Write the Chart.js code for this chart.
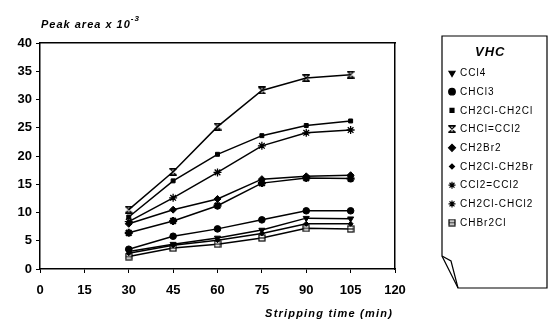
<!DOCTYPE html>
<html>
<head>
<meta charset="utf-8">
<script src="https://cdn.jsdelivr.net/npm/chart.js@4/dist/chart.umd.min.js"></script>
<style>
  html, body { margin: 0; padding: 0; background: #fff; }
  #wrap { width: 549px; height: 323px; position: relative; }
</style>
</head>
<body>
<div id="wrap"><canvas id="myChart" width="549" height="323"></canvas></div>
<script>
// stripping times (min)
const times = [30, 45, 60, 75, 90, 105];
const xTicks = [0, 15, 30, 45, 60, 75, 90, 105, 120];

// peak area x 10^-3
const ccl4 = [3.1, 4.4, 5.5, 6.9, 9.0, 8.9];
const chcl3 = [3.5, 5.8, 7.1, 8.7, 10.3, 10.3];
const ch2clCh2cl = [9.2, 15.6, 20.3, 23.6, 25.4, 26.2];
const chclCcl2 = [10.5, 17.2, 25.2, 31.6, 33.8, 34.4];
const ch2br2 = [8.0, 10.5, 12.4, 15.9, 16.4, 16.6];
const ch2clCh2br = [2.8, 4.2, 5.1, 6.3, 8.0, 8.0];
const ccl2Ccl2 = [6.4, 8.5, 11.2, 15.2, 16.1, 16.0];
const ch2clChcl2 = [8.4, 12.6, 17.1, 21.8, 24.1, 24.6];
const chbr2cl = [2.2, 3.7, 4.4, 5.5, 7.2, 7.1];

const labels = ['CCl4', 'CHCl3', 'CH2Cl-CH2Cl', 'CHCl=CCl2', 'CH2Br2',
    'CH2Cl-CH2Br', 'CCl2=CCl2', 'CH2Cl-CHCl2', 'CHBr2Cl'];
const series = [ccl4, chcl3, ch2clCh2cl, chclCcl2, ch2br2,
    ch2clCh2br, ccl2Ccl2, ch2clChcl2, chbr2cl];

const FONT = '"Liberation Sans", Arial, sans-serif';

// little glyph canvases for the odd markers
function glyph(size, draw) {
    var c = document.createElement('canvas');
    c.width = size; c.height = size;
    var g = c.getContext('2d');
    g.strokeStyle = '#000'; g.fillStyle = '#000'; g.lineWidth = 1.2;
    draw(g, size);
    return c;
}
var hourglass = glyph(8, function (g, s) {
    g.beginPath();
    g.moveTo(1, 1); g.lineTo(s - 1, 1); g.lineTo(1, s - 1); g.lineTo(s - 1, s - 1); g.closePath();
    g.stroke();
    g.fillRect(0.5, 0, s - 1, 1.5); g.fillRect(0.5, s - 1.5, s - 1, 1.5);
});
var boxEight = glyph(8, function (g, s) {
    g.fillStyle = '#fff';
    g.fillRect(1, 1, s - 2, s - 2);
    g.strokeRect(1, 1, s - 2, s - 2);
    g.beginPath(); g.moveTo(1, s / 2); g.lineTo(s - 1, s / 2); g.stroke();
});

const styles = [
    { pointStyle: 'triangle', rotation: 180, radius: 3.5 },
    { pointStyle: 'circle', radius: 3.3 },
    { pointStyle: 'rect', radius: 2.8 },
    { pointStyle: hourglass, radius: 4 },
    { pointStyle: 'rectRot', radius: 3.5 },
    { pointStyle: 'rectRot', radius: 2.5 },
    { pointStyle: 'star', radius: 4, borderWidth: 2.2 },
    { pointStyle: 'star', radius: 4, borderWidth: 1.3 },
    { pointStyle: boxEight, radius: 4 }
];

const datasets = series.map(function (d, i) {
    var s = styles[i];
    return {
        label: labels[i],
        data: d,
        borderColor: '#000',
        backgroundColor: '#000',
        borderWidth: 1.5,
        pointStyle: s.pointStyle,
        rotation: s.rotation || 0,
        pointRadius: s.radius,
        pointBorderWidth: s.borderWidth || 1,
        pointBackgroundColor: '#000',
        pointBorderColor: '#000',
        tension: 0
    };
});

// axis titles (y one has a superscript) + the VHC legend box
const extras = {
    id: 'extras',
    afterDraw: function (chart) {
        var ctx = chart.ctx;
        ctx.save();
        ctx.fillStyle = '#000';
        ctx.textBaseline = 'alphabetic';
        ctx.textAlign = 'left';
        ctx.letterSpacing = '1px';
        ctx.font = 'italic bold 11px ' + FONT;
        var t = 'Peak area x 10';
        ctx.fillText(t, 41, 28);
        var w = ctx.measureText(t).width;
        ctx.font = 'italic bold 8px ' + FONT;
        ctx.fillText('-3', 41 + w, 21);

        ctx.letterSpacing = '1.2px';
        ctx.font = 'italic bold 11px ' + FONT;
        ctx.textAlign = 'right';
        ctx.fillText('Stripping time (min)', 393, 317);

        // legend box with folded corner
        var L = 442, T = 36, R = 547, B = 288;
        ctx.strokeStyle = '#000';
        ctx.lineWidth = 1.2;
        ctx.beginPath();
        ctx.moveTo(L, T); ctx.lineTo(R, T); ctx.lineTo(R, B);
        ctx.lineTo(458, B); ctx.lineTo(L, 256); ctx.closePath();
        ctx.stroke();
        ctx.beginPath();
        ctx.moveTo(L, 256); ctx.lineTo(451, 261); ctx.lineTo(458, B);
        ctx.stroke();

        ctx.textAlign = 'left';
        ctx.letterSpacing = '1px';
        ctx.font = 'italic bold 13px ' + FONT;
        ctx.fillText('VHC', 475, 56);

        ctx.letterSpacing = '1px';
        ctx.font = '10px ' + FONT;
        ctx.textBaseline = 'middle';
        chart.data.datasets.forEach(function (ds, i) {
            var y = 73 + i * 18.7;
            Chart.helpers.drawPoint(ctx, {
                pointStyle: ds.pointStyle,
                rotation: ds.rotation,
                radius: Math.min(ds.pointRadius, 3.5),
                borderWidth: ds.pointBorderWidth
            }, 452, y);
            ctx.fillStyle = '#000';
            ctx.fillText(ds.label, 460, y + 0.5);
        });
        ctx.restore();
    }
};

var ctx = document.getElementById('myChart');
var myChart = new Chart(ctx, {
    type: 'line',
    data: { labels: times, datasets: datasets },
    plugins: [extras],
    options: {
        responsive: false,
        animation: false,
        layout: { padding: { left: 0, right: 154, top: 43, bottom: 0 } },
        plugins: { legend: { display: false }, tooltip: { enabled: false } },
        scales: {
            x: {
                type: 'linear',
                min: 0, max: 120,
                afterBuildTicks: function (scale) {
                    scale.ticks = xTicks.map(function (v) { return { value: v }; });
                },
                border: { color: '#000', width: 1.5 },
                grid: { drawOnChartArea: false, color: '#000', tickLength: 4 },
                ticks: {
                    color: '#000', padding: 10,
                    font: { family: FONT, size: 13, weight: 'bold' },
                    maxRotation: 0
                },
                afterFit: function (scale) { scale.height = 54; }
            },
            y: {
                min: 0, max: 40,
                border: { color: '#000', width: 1.5 },
                grid: { drawOnChartArea: false, color: '#000', tickLength: 4 },
                ticks: {
                    stepSize: 5, color: '#000', padding: 4,
                    font: { family: FONT, size: 13, weight: 'bold' }
                },
                afterFit: function (scale) { scale.width = 40; }
            },
            x2: {
                type: 'linear', position: 'top', min: 0, max: 120,
                border: { color: '#000', width: 1.5 },
                grid: { display: false }, ticks: { display: false },
                afterFit: function (scale) { scale.height = 0; }
            },
            y2: {
                position: 'right', min: 0, max: 40,
                border: { color: '#000', width: 1.5 },
                grid: { display: false }, ticks: { display: false },
                afterFit: function (scale) { scale.width = 0; }
            }
        }
    }
});
</script>
</body>
</html>
